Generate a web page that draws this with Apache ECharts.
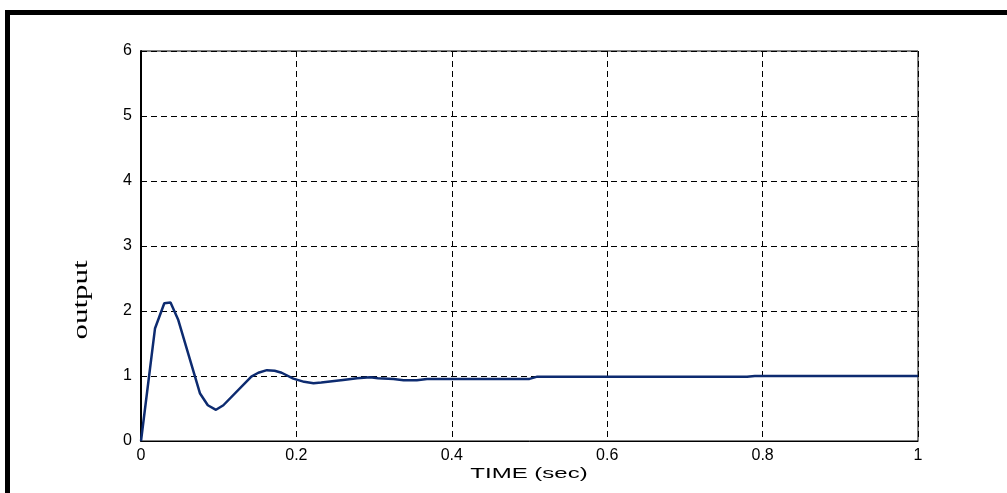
<!DOCTYPE html>
<html>
<head>
<meta charset="utf-8">
<script src="https://cdn.jsdelivr.net/npm/echarts@6/dist/echarts.min.js"></script>
<style>
    html, body { margin: 0; padding: 0; background: #fff; }
    #chart { position: absolute; left: 0; top: 0; width: 1007px; height: 493px; }
    /* thick black frame, top and left only */
    #frame {
        position: absolute; left: 5px; top: 10px; right: 0; bottom: 0;
        border-top: 5px solid #000; border-left: 5px solid #000;
        pointer-events: none;
    }
</style>
</head>
<body>
<div id="chart"></div>
<div id="frame"></div>
<script>
    // step response
    var time = [0, 0.018, 0.030, 0.038, 0.048, 0.076, 0.086, 0.0965, 0.106, 0.142, 0.151, 0.162,
        0.172, 0.181, 0.196, 0.210, 0.222, 0.232, 0.260, 0.278, 0.295, 0.305, 0.325, 0.338,
        0.355, 0.368, 0.500, 0.510, 0.780, 0.790, 1.0]
    var output = [0, 1.73, 2.12, 2.13, 1.86, 0.73, 0.55, 0.48, 0.55, 0.99, 1.05, 1.09,
        1.08, 1.05, 0.96, 0.91, 0.89, 0.90, 0.94, 0.965, 0.98, 0.965, 0.955, 0.935,
        0.935, 0.955, 0.955, 0.99, 0.99, 1.0, 1.0]

    var xTicks = [0, 0.2, 0.4, 0.6, 0.8, 1]
    var yTicks = [0, 1, 2, 3, 4, 5, 6]

    var points = time.map(function (t, i) { return [t, output[i]] })

    var chart = echarts.init(document.getElementById('chart'))

    var gridLine = {
        show: true,
        lineStyle: { color: '#000', width: 1, type: [6, 4] }
    }

    chart.setOption({
        animation: false,
        grid: {
            left: 141, right: 89, top: 51, bottom: 52,
            show: true, borderColor: '#000', borderWidth: 1, backgroundColor: '#fff'
        },
        xAxis: {
            type: 'value',
            min: xTicks[0],
            max: xTicks[xTicks.length - 1],
            interval: 0.2,
            axisLine: { show: true, onZero: false, lineStyle: { color: '#000', width: 1 } },
            axisTick: { show: false },
            splitLine: gridLine,
            axisLabel: {
                margin: 7,
                color: '#000',
                fontFamily: 'Liberation Sans',
                fontSize: 16
            }
        },
        yAxis: {
            type: 'value',
            min: yTicks[0],
            max: yTicks[yTicks.length - 1],
            interval: 1,
            axisLine: { show: true, onZero: false, lineStyle: { color: '#000', width: 2 } },
            axisTick: { show: false },
            splitLine: gridLine,
            axisLabel: {
                margin: 9,
                color: '#000',
                fontFamily: 'Liberation Sans',
                fontSize: 16
            }
        },
        graphic: [
            {
                type: 'text',
                x: 81, y: 300,
                rotation: Math.PI / 2,
                scaleY: 0.7,
                style: {
                    text: 'output',
                    font: '31px "Liberation Serif"',
                    fill: '#000',
                    align: 'center',
                    verticalAlign: 'middle'
                }
            },
            {
                type: 'text',
                x: 529, y: 474,
                scaleX: 1.6,
                style: {
                    text: 'TIME (sec)',
                    font: '15px "Liberation Sans"',
                    fill: '#000',
                    align: 'center',
                    verticalAlign: 'middle'
                }
            }
        ],
        series: [
            {
                type: 'line',
                data: points,
                showSymbol: false,
                smooth: false,
                lineStyle: { color: '#0d2b70', width: 2.5 }
            }
        ]
    })
</script>
</body>
</html>
